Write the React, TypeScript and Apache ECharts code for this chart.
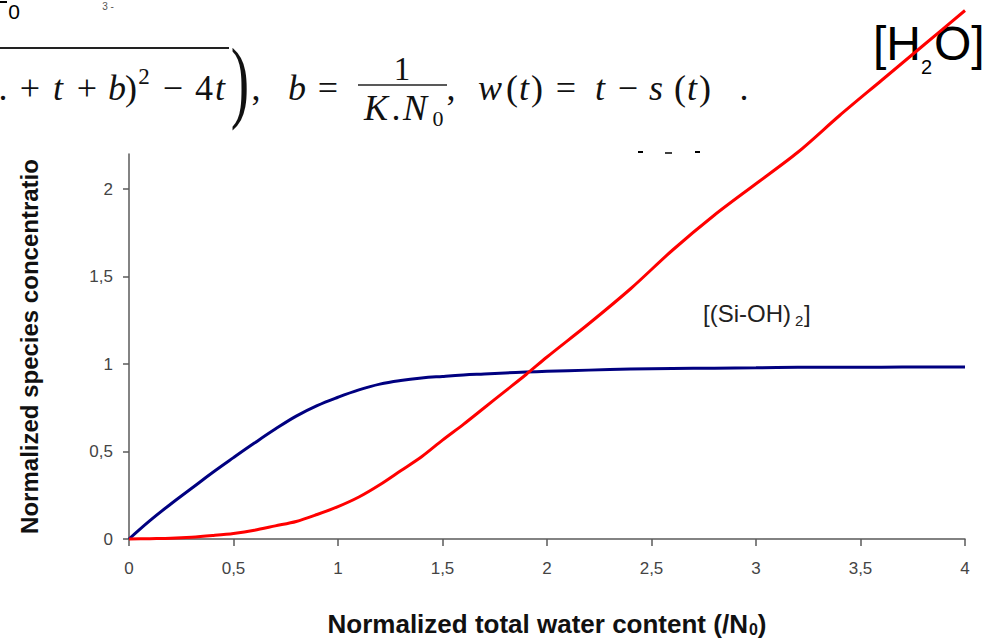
import React, { useEffect, useRef } from 'react';
import * as echarts from 'echarts';

// Normalized total water content t (/N0)
const waterContent = [0, 0.1, 0.2, 0.3, 0.4, 0.5, 0.6, 0.7, 0.8, 0.9, 1.0, 1.1, 1.2, 1.3, 1.4, 1.5, 1.6, 1.7, 1.8, 1.9, 2.0, 2.2, 2.4, 2.6, 2.8, 3.0, 3.2, 3.4, 3.6, 3.8, 4.0];
// [(Si-OH)2] normalized concentration (blue)
const silanolPairs = [0, 0.105, 0.2, 0.29, 0.38, 0.465, 0.548, 0.628, 0.702, 0.762, 0.81, 0.852, 0.885, 0.906, 0.92, 0.929, 0.937, 0.943, 0.949, 0.954, 0.958, 0.965, 0.971, 0.974, 0.976, 0.978, 0.981, 0.982, 0.982, 0.983, 0.983];
// [H2O] normalized concentration (red)
const freeWater = [0, 0.002, 0.004, 0.01, 0.02, 0.032, 0.05, 0.075, 0.1, 0.14, 0.185, 0.24, 0.31, 0.39, 0.47, 0.565, 0.655, 0.75, 0.845, 0.94, 1.04, 1.23, 1.43, 1.65, 1.85, 2.03, 2.21, 2.42, 2.62, 2.82, 3.02];

const xTicks = [0, 0.5, 1, 1.5, 2, 2.5, 3, 3.5, 4];
const yTicks = [0, 0.5, 1, 1.5, 2];

const xTitle = 'Normalized total water content (/N{sub|0})';
const yTitle = 'Normalized species concentratio';

const fmt = (v: number) => String(v).replace('.', ',');

const serif = '"Liberation Serif", "DejaVu Serif", serif';
const sans = '"Liberation Sans", Arial, sans-serif';

// formula glyph: [text, centreX, centreY, fontSize, italic]
type Glyph = [string, number, number, number, boolean];
const formulaGlyphs: Glyph[] = [
  ['.', 3, 88, 36, false],
  ['+', 30, 88, 36, false],
  ['t', 58, 88, 36, true],
  ['+', 87, 88, 36, false],
  ['b', 117, 88, 36, true],
  [')', 131, 88, 36, false],
  ['2', 144, 76, 23, false],
  ['−', 173, 88, 36, false],
  ['4', 204, 88, 36, false],
  ['t', 220, 88, 36, true],
  [',', 256, 88, 36, false],
  ['b', 297, 88, 36, true],
  ['=', 328, 88, 36, false],
  ['1', 402, 69, 33, false],
  ['K', 376, 108, 36, true],
  ['.', 396, 108, 36, false],
  ['N', 415, 108, 36, true],
  ['0', 438, 118, 22, false],
  [',', 451, 88, 36, false],
  ['w', 490, 88, 36, true],
  ['(', 512, 88, 36, false],
  ['t', 524, 88, 36, true],
  [')', 537, 88, 36, false],
  ['=', 566, 88, 36, false],
  ['t', 600, 88, 36, true],
  ['−', 628, 88, 36, false],
  ['s', 656, 88, 36, true],
  ['(', 680, 88, 36, false],
  ['t', 692, 88, 36, true],
  [')', 705, 88, 36, false],
  ['.', 744, 88, 36, false],
];

const textEl = (text: string, x: number, y: number, font: string, fill: string, align = 'center', extra: any = {}) => ({
  type: 'text', z: 0, x, y, ...extra,
  style: { text, font, fill, align, verticalAlign: 'middle', textAlign: align, textVerticalAlign: 'middle' },
});

export default function App() {
  const ref = useRef<HTMLDivElement>(null);
  useEffect(() => {
    const chart = echarts.init(ref.current!, null, { renderer: 'svg' });
    const axisColor = '#5a5a5a';
    const tickLabel = { color: '#444', fontSize: 17, fontFamily: sans };
    const formula = formulaGlyphs.map(([t, x, y, s, it]) =>
      textEl(t, x, y, (it ? 'italic ' : '') + s + 'px ' + serif, '#111'));
    const option: any = {
      animation: false,
      backgroundColor: '#fff',
      grid: { left: 129, right: 25, top: 154, bottom: 100, containLabel: false, outerBoundsMode: 'none' },
      xAxis: {
        type: 'value',
        min: 0,
        max: 4,
        interval: 0.5,
        axisLine: { lineStyle: { color: axisColor, width: 1.5 } },
        axisTick: { length: 7, lineStyle: { color: axisColor, width: 1.5 }, customValues: xTicks },
        axisLabel: { ...tickLabel, margin: 21, formatter: fmt, customValues: xTicks },
        splitLine: { show: false },
        name: xTitle,
        nameLocation: 'middle',
        nameGap: 72,
        nameTextStyle: {
          fontWeight: 'bold', fontSize: 26, color: '#111', fontFamily: sans,
          rich: { sub: { fontSize: 16, fontWeight: 'bold', color: '#111', fontFamily: sans, verticalAlign: 'bottom', padding: [10, 0, 0, 1] } },
        },
      },
      yAxis: {
        type: 'value',
        min: 0,
        max: 2.2,
        interval: 0.5,
        axisLine: { show: true, lineStyle: { color: axisColor, width: 1.5 } },
        axisTick: { show: true, length: 6, lineStyle: { color: axisColor, width: 1.5 }, customValues: yTicks },
        axisLabel: { ...tickLabel, margin: 16, formatter: fmt, customValues: yTicks },
        splitLine: { show: false },
        name: yTitle,
        nameLocation: 'middle',
        nameRotate: 90,
        nameGap: 88,
        nameTextStyle: { fontWeight: 'bold', fontSize: 24, color: '#111', fontFamily: sans },
      },
      series: [
        {
          name: '[(Si-OH)2]',
          type: 'line',
          data: waterContent.map((t, i) => [t, silanolPairs[i]]),
          showSymbol: false,
          smooth: 0.4,
          lineStyle: { color: '#000080', width: 3 },
          itemStyle: { color: '#000080' },
          clip: false,
          z: 3,
        },
        {
          name: '[H2O]',
          type: 'line',
          data: waterContent.map((t, i) => [t, freeWater[i]]),
          showSymbol: false,
          smooth: 0.3,
          lineStyle: { color: '#ff0000', width: 3 },
          itemStyle: { color: '#ff0000' },
          clip: false,
          z: 4,
        },
      ],
      graphic: [
        // cropped remnants at top-left
        { type: 'line', z: 0, shape: { x1: 0, y1: 2, x2: 7, y2: 2 }, style: { stroke: '#000', lineWidth: 2 } },
        textEl('0', 14, 11, '21px ' + sans, '#000'),
        textEl('3 -', 108, 6, '10px ' + sans, '#555'),
        // square-root overline
        { type: 'line', z: 0, shape: { x1: 0, y1: 48, x2: 229, y2: 48 }, style: { stroke: '#222', lineWidth: 2 } },
        ...formula,
        // big closing parenthesis
        textEl(')', 240, 79, '92px ' + serif, '#111', 'center', { scaleX: 0.6 }),
        // fraction bar
        { type: 'line', z: 0, shape: { x1: 358, y1: 85, x2: 447, y2: 85 }, style: { stroke: '#222', lineWidth: 1.5 } },
        // cropped remnants near top of plot
        { type: 'line', z: 0, shape: { x1: 638, y1: 152, x2: 643, y2: 152 }, style: { stroke: '#000', lineWidth: 2 } },
        { type: 'line', z: 0, shape: { x1: 665, y1: 153, x2: 672, y2: 153 }, style: { stroke: '#000', lineWidth: 1.5 } },
        { type: 'line', z: 0, shape: { x1: 695, y1: 152, x2: 700, y2: 152 }, style: { stroke: '#000', lineWidth: 2 } },
        // [H2O] label
        textEl('[H', 873, 43, '48px ' + sans, '#000', 'left'),
        textEl('2', 921, 67, '20px ' + sans, '#000', 'left'),
        textEl('O]', 934, 43, '48px ' + sans, '#000', 'left'),
        // [(Si-OH)2] label
        textEl('[(Si-OH)', 703, 313, '24px ' + sans, '#222', 'left'),
        textEl('2', 795, 320, '15px ' + sans, '#222', 'left'),
        textEl(']', 804, 313, '24px ' + sans, '#222', 'left'),
      ],
    };
    chart.setOption(option);
    return () => chart.dispose();
  }, []);
  return <div ref={ref} style={{ position: 'absolute', left: 0, top: 0, width: 990, height: 639 }} />;
}
